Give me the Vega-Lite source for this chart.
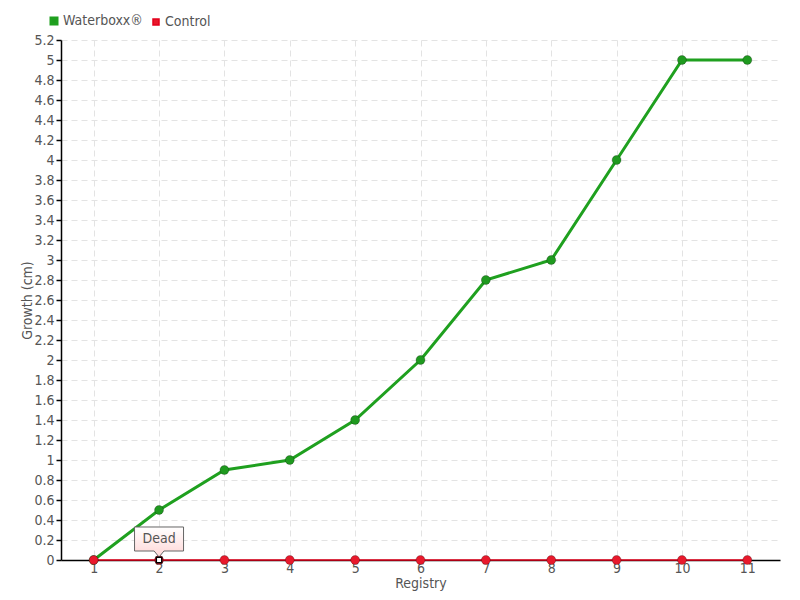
{
  "$schema": "https://vega.github.io/schema/vega-lite/v6.json",
  "autosize": "none",
  "width": 719,
  "height": 520,
  "padding": {"left": 61, "top": 40, "right": 20, "bottom": 40},
  "background": "white",
  "config": {
    "font": "DejaVu Sans Condensed, sans-serif",
    "view": {"stroke": null},
    "axis": {
      "labelFont": "DejaVu Sans Condensed, sans-serif",
      "titleFont": "DejaVu Sans Condensed, sans-serif",
      "labelColor": "#555555",
      "titleColor": "#555555",
      "labelFontSize": 14,
      "titleFontSize": 14,
      "titleFontWeight": "normal",
      "domainColor": "#000000",
      "domainWidth": 1.5,
      "gridColor": "#e3e3e3",
      "gridDash": [6, 4],
      "gridWidth": 1
    }
  },
  "datasets": {
    "growth": [
      {"registry": 1, "series": "Waterboxx®", "growth": 0},
      {"registry": 2, "series": "Waterboxx®", "growth": 0.5},
      {"registry": 3, "series": "Waterboxx®", "growth": 0.9},
      {"registry": 4, "series": "Waterboxx®", "growth": 1.0},
      {"registry": 5, "series": "Waterboxx®", "growth": 1.4},
      {"registry": 6, "series": "Waterboxx®", "growth": 2.0},
      {"registry": 7, "series": "Waterboxx®", "growth": 2.8},
      {"registry": 8, "series": "Waterboxx®", "growth": 3.0},
      {"registry": 9, "series": "Waterboxx®", "growth": 4.0},
      {"registry": 10, "series": "Waterboxx®", "growth": 5.0},
      {"registry": 11, "series": "Waterboxx®", "growth": 5.0},
      {"registry": 1, "series": "Control", "growth": 0},
      {"registry": 2, "series": "Control", "growth": 0},
      {"registry": 3, "series": "Control", "growth": 0},
      {"registry": 4, "series": "Control", "growth": 0},
      {"registry": 5, "series": "Control", "growth": 0},
      {"registry": 6, "series": "Control", "growth": 0},
      {"registry": 7, "series": "Control", "growth": 0},
      {"registry": 8, "series": "Control", "growth": 0},
      {"registry": 9, "series": "Control", "growth": 0},
      {"registry": 10, "series": "Control", "growth": 0},
      {"registry": 11, "series": "Control", "growth": 0}
    ],
    "note": [
      {"registry": 2, "growth": 0, "label": "Dead"}
    ]
  },
  "encoding": {
    "x": {
      "field": "registry",
      "type": "ordinal",
      "scale": {"type": "point", "padding": 0.5},
      "axis": {
        "title": "Registry",
        "labelAngle": 0,
        "ticks": false,
        "labelPadding": 1,
        "titlePadding": 1,
        "grid": true
      }
    },
    "y": {
      "field": "growth",
      "type": "quantitative",
      "scale": {"domain": [0, 5.2], "nice": false},
      "axis": {
        "title": "Growth (cm)",
        "format": ".1~f",
        "values": [0,0.2,0.4,0.6,0.8,1,1.2,1.4,1.6,1.8,2,2.2,2.4,2.6,2.8,3,3.2,3.4,3.6,3.8,4,4.2,4.4,4.6,4.8,5,5.2],
        "tickColor": "#000000",
        "tickSize": 5,
        "tickWidth": 1.5,
        "labelPadding": 2,
        "titlePadding": -1,
        "grid": true
      }
    }
  },
  "layer": [
    {
      "data": {"name": "growth"},
      "mark": {"type": "point", "filled": true, "opacity": 0, "size": 1},
      "encoding": {
        "fill": {
          "field": "series",
          "type": "nominal",
          "sort": ["Waterboxx®", "Control"],
          "scale": {"domain": ["Waterboxx®", "Control"], "range": ["#1f9a1f", "#e8192c"]},
          "legend": {
            "title": null,
            "orient": "none",
            "legendX": -14,
            "legendY": -26,
            "direction": "horizontal",
            "symbolType": "square",
            "symbolSize": 36,
            "symbolStrokeWidth": 0,
            "symbolOpacity": 1,
            "labelFont": "DejaVu Sans Condensed, sans-serif",
            "labelFontSize": 14,
            "labelColor": "#555555",
            "labelOffset": 2,
            "columnPadding": 6
          }
        }
      }
    },
    {
      "data": {"name": "growth"},
      "mark": {"type": "line", "interpolate": "linear"},
      "encoding": {
        "stroke": {
          "field": "series",
          "type": "nominal",
          "scale": {"domain": ["Waterboxx®", "Control"], "range": ["#1fa01f", "#e3001b"]},
          "legend": null
        },
        "strokeWidth": {
          "field": "series",
          "type": "nominal",
          "scale": {"domain": ["Waterboxx®", "Control"], "range": [3, 1.5]},
          "legend": null
        }
      }
    },
    {
      "data": {"name": "growth"},
      "mark": {"type": "point", "filled": true, "opacity": 1, "size": 80, "stroke": "#000000", "strokeOpacity": 0.25, "strokeWidth": 1},
      "encoding": {
        "fill": {
          "field": "series",
          "type": "nominal",
          "legend": null
        }
      }
    },
    {
      "data": {"name": "note"},
      "mark": {
        "type": "point",
        "shape": "M-1,-1.347H1V-0.367H0.2L0,-0.12L-0.2,-0.367H-1Z",
        "size": 2401,
        "filled": true,
        "opacity": 1,
        "stroke": "#666666",
        "strokeWidth": 1,
        "fill": {
          "gradient": "linear",
          "x1": 0, "y1": 0, "x2": 0, "y2": 1,
          "stops": [
            {"offset": 0, "color": "#ffffff"},
            {"offset": 1, "color": "#ffd6d6"}
          ]
        }
      }
    },
    {
      "data": {"name": "note"},
      "mark": {
        "type": "point",
        "shape": "square",
        "size": 30,
        "filled": true,
        "opacity": 1,
        "fill": "#ffffff",
        "stroke": "#000000",
        "strokeWidth": 1.5
      }
    },
    {
      "data": {"name": "note"},
      "mark": {
        "type": "text",
        "dy": -21,
        "baseline": "middle",
        "align": "center",
        "font": "DejaVu Sans Condensed, sans-serif",
        "fontSize": 14,
        "color": "#555555"
      },
      "encoding": {"text": {"field": "label"}}
    }
  ]
}
